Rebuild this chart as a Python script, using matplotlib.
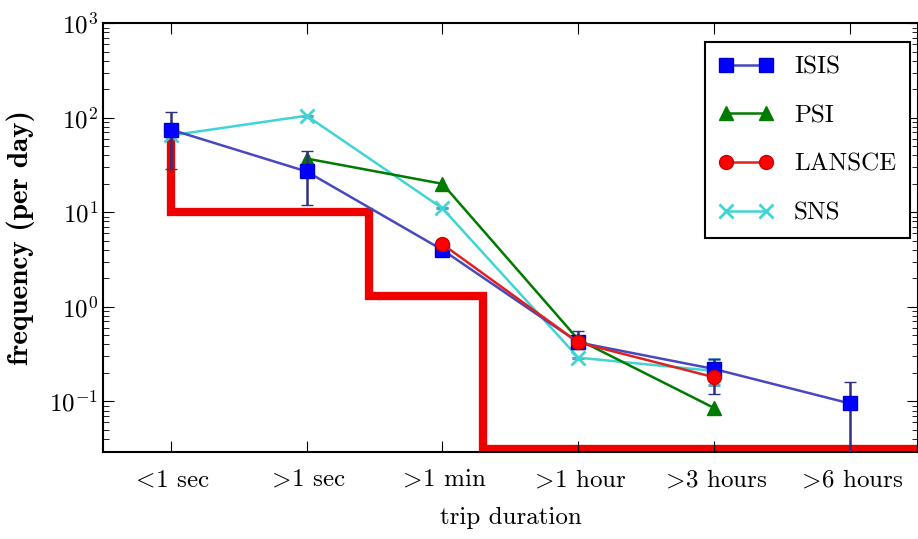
import numpy as np
import matplotlib
matplotlib.use("Agg")
import matplotlib.pyplot as plt
from matplotlib.lines import Line2D

plt.rcParams['font.family'] = 'cmr10'
plt.rcParams['mathtext.fontset'] = 'cm'
plt.rcParams['axes.formatter.use_mathtext'] = True

durations = [r'$<\!$1 sec', r'$>\!$1 sec', r'$>\!$1 min', r'$>\!$1 hour',
             r'$>\!$3 hours', r'$>\!$6 hours']
x = np.arange(len(durations))

# frequency per day (nan = no point)
isis = [75, 27, 4.0, 0.42, 0.22, 0.095]
isis_lo = [29, 12, 4.0, 0.36, 0.12, 0.001]
isis_hi = [115, 45, 4.0, 0.55, 0.28, 0.16]
psi = [np.nan, 37, 20, 0.45, 0.085, np.nan]
lansce = [np.nan, np.nan, 4.6, 0.42, 0.18, np.nan]
sns_v = [65, 105, 11, 0.29, 0.21, np.nan]
sns_lo = [65, 105, 11, 0.29, 0.15, np.nan]
sns_hi = [65, 105, 11, 0.29, 0.28, np.nan]

# red step (threshold)
step_x = [0, 0, 1.46, 1.46, 2.3, 2.3, 5.6]
step_y = [68, 10, 10, 1.3, 1.3, 0.031, 0.031]

fig = plt.figure(figsize=(9.18, 5.39), dpi=100)
ax = fig.add_axes([0.112, 0.161, 0.888, 0.796])

ax.plot(step_x, step_y, color='#ee0000', lw=6, zorder=1, solid_joinstyle='miter')

def yerr(v, lo, hi):
    v = np.array(v, float)
    return [v - np.array(lo, float), np.array(hi, float) - v]

ax.errorbar(x, sns_v, yerr=yerr(sns_v, sns_lo, sns_hi), color='#40d4d4',
            ecolor='#5aa0c8', marker='x', ms=10, mew=2, lw=1.8, capsize=4, zorder=2)
ax.plot(x, psi, color='#007a00', marker='^', ms=10, lw=1.8, zorder=3)
ax.errorbar(x, isis, yerr=yerr(isis, isis_lo, isis_hi), color='#4848c0',
            mfc='#0000ff', mec='#0000cc', ecolor='#303080', marker='s', ms=10,
            lw=1.8, capsize=4, zorder=4)
ax.plot(x, lansce, color='#dd2222', mfc='#ff0000', mec='#cc0000', marker='o',
        ms=10, lw=1.8, zorder=5)

ax.set_yscale('log')
ax.set_ylim(0.029, 1000)
ax.set_xlim(-0.5, 5.5)
ax.set_xticks(x)
ax.set_xticklabels(durations)
ax.tick_params(which='both', direction='in', top=True, right=True, labelsize=18)
ax.tick_params(which='major', length=8)
ax.tick_params(which='minor', length=4)
ax.tick_params(axis='x', pad=12)
for s in ax.spines.values():
    s.set_linewidth(1.5)

ax.set_xlabel('trip duration', fontsize=18, labelpad=11)
ax.set_ylabel('frequency (per day)', fontsize=21, family='cmb10', labelpad=10)

handles = [
    Line2D([], [], color='#4848c0', mfc='#0000ff', mec='#0000cc', marker='s', ms=10, lw=1.8),
    Line2D([], [], color='#007a00', marker='^', ms=10, lw=1.8),
    Line2D([], [], color='#dd2222', mfc='#ff0000', mec='#cc0000', marker='o', ms=10, lw=1.8),
    Line2D([], [], color='#40d4d4', marker='x', ms=10, mew=2, lw=1.8),
]
leg = ax.legend(handles, ['ISIS', 'PSI', 'LANSCE', 'SNS'],
                loc='upper right', numpoints=2, fontsize=18, fancybox=False,
                framealpha=1, edgecolor='black', borderpad=0.55, labelspacing=1.05,
                handlelength=2.2, handletextpad=0.8, borderaxespad=0,
                bbox_to_anchor=(0.99, 0.956))
leg.get_frame().set_linewidth(1.5)

fig.savefig('out.png', dpi=100, facecolor='white')
